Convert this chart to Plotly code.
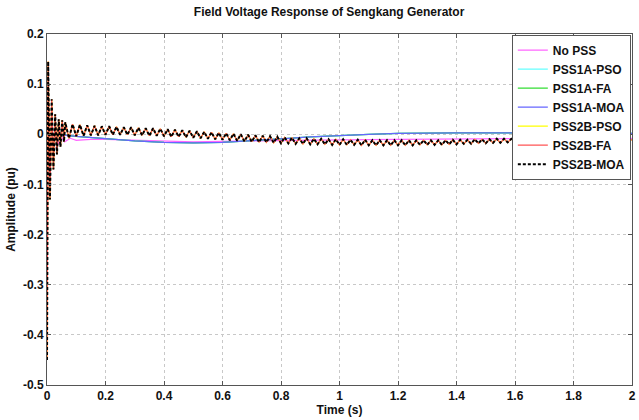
import plotly.graph_objects as go

# ---------------- data ----------------
# PSS2B responses: early transient
pss2b_t_early = [0.0, 0.004, 0.010, 0.016, 0.022, 0.028, 0.034, 0.040, 0.046, 0.052, 0.058]
pss2b_v_early = [-0.45, 0.145, -0.13, 0.07, -0.07, 0.04, -0.04, 0.03, -0.025, 0.028, -0.015]

# PSS2B responses: oscillating part, sampled every 0.0125 s from 0.0625 s to 1.7 s
pss2b_t_osc = [round(0.0625 + 0.0125 * i, 4) for i in range(132)]
pss2b_v_osc = [
    0.024, -0.008, 0.020, -0.004, 0.019, -0.003, 0.018, -0.002,
    0.017, -0.002, 0.016, -0.001, 0.016, -0.001, 0.015, -0.001,
    0.014, -0.001, 0.014, -0.002, 0.013, -0.002, 0.012, -0.003,
    0.012, -0.003, 0.011, -0.004, 0.010, -0.005, 0.009, -0.005,
    0.008, -0.006, 0.007, -0.007, 0.006, -0.008, 0.005, -0.009,
    0.004, -0.010, 0.003, -0.011, 0.002, -0.012, 0.001, -0.013,
    0.000, -0.014, -0.001, -0.015, -0.002, -0.016, -0.003, -0.016,
    -0.004, -0.017, -0.005, -0.018, -0.006, -0.018, -0.007, -0.019,
    -0.008, -0.019, -0.008, -0.020, -0.009, -0.020, -0.009, -0.020,
    -0.010, -0.021, -0.010, -0.021, -0.010, -0.021, -0.011, -0.021,
    -0.011, -0.022, -0.011, -0.022, -0.012, -0.022, -0.012, -0.022,
    -0.012, -0.022, -0.012, -0.022, -0.012, -0.022, -0.012, -0.022,
    -0.012, -0.021, -0.012, -0.021, -0.012, -0.021, -0.012, -0.021,
    -0.012, -0.020, -0.011, -0.020, -0.011, -0.019, -0.011, -0.019,
    -0.010, -0.018, -0.010, -0.018, -0.010, -0.017, -0.009, -0.017,
    -0.009, -0.016, -0.009, -0.016, -0.008, -0.015, -0.008, -0.015,
    -0.008, -0.014, -0.008, -0.014,
]
pss2b_t_tail = [1.75, 1.8, 1.9, 2.0]
pss2b_v_tail = [-0.012, -0.012, -0.011, -0.011]

pss2b_t = pss2b_t_early + pss2b_t_osc + pss2b_t_tail
pss2b_moa = pss2b_v_early + pss2b_v_osc + pss2b_v_tail
pss2b_fa = list(pss2b_moa)
pss2b_pso = list(pss2b_moa)

# No PSS
nopss_t = [0.0, 0.004, 0.010, 0.016, 0.022, 0.030, 0.040, 0.050, 0.060, 0.080, 0.10, 0.15,
           0.2, 0.3, 0.4, 0.5, 0.6, 0.7, 0.8, 1.0, 1.2, 1.4, 1.6, 1.8, 2.0]
nopss_v = [-0.30, 0.10, -0.08, 0.03, -0.03, 0.01, -0.02, -0.005, -0.015, -0.008, -0.012, -0.010,
           -0.010, -0.012, -0.014, -0.015, -0.014, -0.013, -0.012, -0.011, -0.010, -0.009, -0.009, -0.008, -0.008]

# PSS1A responses
pss1a_t = [0.0, 0.02, 0.05, 0.1, 0.2, 0.3, 0.4, 0.5, 0.6, 0.7, 0.8, 0.9, 1.0, 1.1, 1.2, 1.3, 1.4, 1.6, 1.8, 2.0]
pss1a_pso = [0.0, 0.0, -0.001, -0.004, -0.009, -0.013, -0.016, -0.017, -0.016, -0.013, -0.009, -0.005,
             -0.002, 0.000, 0.002, 0.003, 0.003, 0.003, 0.003, 0.002]
pss1a_fa = [0.0, 0.0, -0.001, -0.004, -0.009, -0.013, -0.016, -0.017, -0.016, -0.013, -0.009, -0.005,
            -0.002, 0.000, 0.002, 0.003, 0.003, 0.003, 0.003, 0.002]
pss1a_moa = [0.0, 0.0, -0.001, -0.004, -0.009, -0.013, -0.016, -0.017, -0.016, -0.013, -0.009, -0.005,
             -0.002, 0.000, 0.002, 0.003, 0.003, 0.003, 0.003, 0.002]

x_ticks = [0, 0.2, 0.4, 0.6, 0.8, 1, 1.2, 1.4, 1.6, 1.8, 2]
x_tick_labels = ["0", "0.2", "0.4", "0.6", "0.8", "1", "1.2", "1.4", "1.6", "1.8", "2"]
y_ticks = [-0.5, -0.4, -0.3, -0.2, -0.1, 0, 0.1, 0.2]
y_tick_labels = ["-0.5", "-0.4", "-0.3", "-0.2", "-0.1", "0", "0.1", "0.2"]

# ---------------- figure ----------------
fig = go.Figure()
series = [
    ("No PSS", nopss_t, nopss_v, "#ff66ff", "solid", 1.2),
    ("PSS1A-PSO", pss1a_t, pss1a_pso, "#66ffff", "solid", 1.2),
    ("PSS1A-FA", pss1a_t, pss1a_fa, "#33dd33", "solid", 1.2),
    ("PSS1A-MOA", pss1a_t, pss1a_moa, "#6666ff", "solid", 1.2),
    ("PSS2B-PSO", pss2b_t, pss2b_pso, "#ffff00", "solid", 1.2),
    ("PSS2B-FA", pss2b_t, pss2b_fa, "#ff5555", "solid", 1.2),
    ("PSS2B-MOA", pss2b_t, pss2b_moa, "#000000", "3px,2px", 2),
]
for name, xs, ys, col, dash, w in series:
    fig.add_trace(go.Scatter(x=xs, y=ys, mode="lines", name=name,
                             line=dict(color=col, dash=dash, width=w)))

axis_common = dict(
    showline=True, linecolor="#555555", linewidth=1, mirror="ticks",
    ticks="inside", ticklen=4, tickcolor="#555555",
    showgrid=True, gridcolor="#c8c8c8", griddash="dot", gridwidth=1,
    zeroline=False, ticklabeloverflow="allow",
    tickfont=dict(family="Arial, Liberation Sans", size=12, color="#111111", weight="bold"),
)

fig.update_layout(
    width=639, height=420,
    margin=dict(l=47, r=3, t=34, b=35),
    paper_bgcolor="white", plot_bgcolor="white",
    title=dict(text="Field Voltage Response of Sengkang Generator",
               x=0.515, xanchor="center", y=0.972, yanchor="middle",
               font=dict(family="Arial, Liberation Sans", size=12, color="#111111", weight="bold")),
    xaxis=dict(range=[0, 2], tickvals=x_ticks, ticktext=x_tick_labels,
               title=dict(text="Time (s)", standoff=2,
                          font=dict(family="Arial, Liberation Sans", size=12, color="#111111", weight="bold")),
               **axis_common),
    yaxis=dict(range=[-0.5, 0.2], tickvals=y_ticks, ticktext=y_tick_labels,
               title=dict(text="Amplitude (pu)", standoff=4,
                          font=dict(family="Arial, Liberation Sans", size=12, color="#111111", weight="bold")),
               **axis_common),
    legend=dict(x=0.998, y=0.998, xanchor="right", yanchor="top",
                bgcolor="white", bordercolor="#555555", borderwidth=1,
                itemwidth=30, tracegroupgap=0,
                font=dict(family="Arial, Liberation Sans", size=12, color="#111111", weight="bold")),
    showlegend=True,
)

fig.write_html("out.html")
